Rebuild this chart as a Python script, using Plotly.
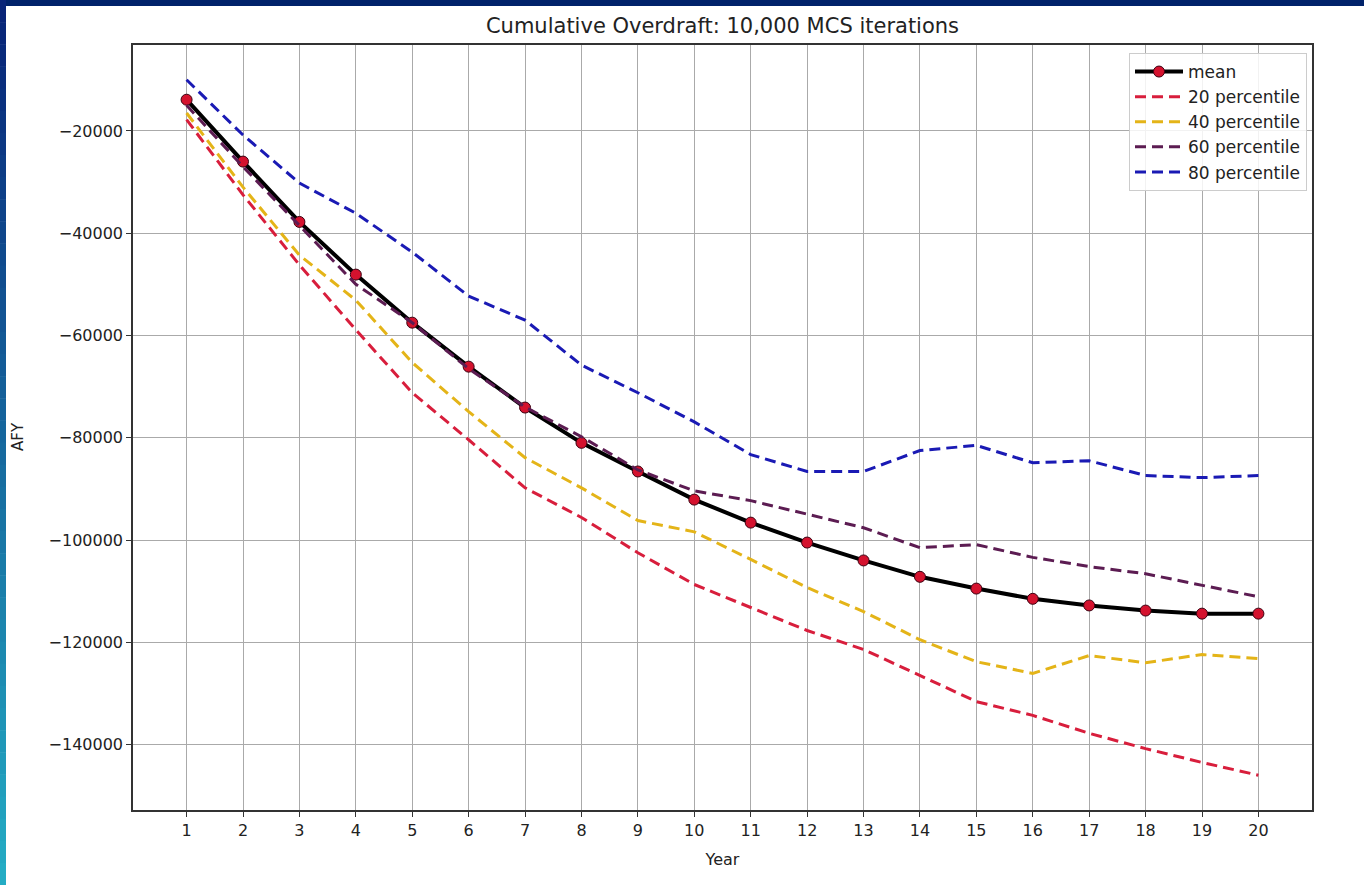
import plotly.graph_objects as go

years = list(range(1, 21))
mean_vals = [-13900, -26000, -37800, -48100, -57500, -66100, -74100, -81000, -86600, -92100,
             -96600, -100500, -104000, -107200, -109500, -111500, -112800, -113800, -114400, -114400]
p20 = [-17800, -32500, -46200, -58900, -71200, -80400, -89800, -95600, -102500, -108700,
       -113200, -117700, -121400, -126500, -131600, -134300, -137800, -140800, -143500, -146000]
p40 = [-16500, -31000, -44300, -53100, -65300, -74900, -83900, -89800, -96200, -98400,
       -103800, -109300, -114000, -119500, -123800, -126100, -122600, -124000, -122400, -123200]
p60 = [-15000, -27000, -38500, -50000, -57500, -66500, -74000, -79800, -86300, -90400,
       -92300, -94900, -97600, -101500, -100900, -103400, -105200, -106600, -108900, -111100]
p80 = [-10000, -20800, -30200, -36100, -43700, -52300, -57000, -65800, -71200, -76900,
       -83300, -86600, -86600, -82500, -81500, -84900, -84500, -87400, -87800, -87400]
y_ticks = [-20000, -40000, -60000, -80000, -100000, -120000, -140000]

W, H = 1364, 885
L, R, T, B = 133, 1312, 45, 810

DASH = "11px,6px"

fig = go.Figure()
fig.add_trace(go.Scatter(x=years, y=mean_vals, name="mean", mode="lines+markers",
                         line=dict(color="black", width=4),
                         marker=dict(color="#d4122e", size=11, line=dict(color="#3a0010", width=1))))
fig.add_trace(go.Scatter(x=years, y=p20, name="20 percentile", mode="lines",
                         line=dict(color="#d81e3c", width=3, dash=DASH)))
fig.add_trace(go.Scatter(x=years, y=p40, name="40 percentile", mode="lines",
                         line=dict(color="#e4b418", width=3, dash=DASH)))
fig.add_trace(go.Scatter(x=years, y=p60, name="60 percentile", mode="lines",
                         line=dict(color="#5c1c52", width=3, dash=DASH)))
fig.add_trace(go.Scatter(x=years, y=p80, name="80 percentile", mode="lines",
                         line=dict(color="#1a1ab4", width=3, dash=DASH)))

def px_x(p):
    return (p - L) / (R - L)

def px_y(p):
    return (B - p) / (B - T)

shapes = []
# top border
shapes.append(dict(type="rect", xref="paper", yref="paper", x0=px_x(0), x1=px_x(W), y0=px_y(6), y1=px_y(0),
                   fillcolor="#00226a", line=dict(width=0), layer="above"))
# left gradient border
n = 40
c0 = (8, 36, 120)
c1 = (36, 172, 196)
for i in range(n):
    t = i / (n - 1)
    c = tuple(int(c0[k] + (c1[k] - c0[k]) * t) for k in range(3))
    shapes.append(dict(type="rect", xref="paper", yref="paper", x0=px_x(0), x1=px_x(6),
                       y0=px_y(H * (i + 1) / n + 0.5), y1=px_y(H * i / n),
                       fillcolor="rgb(%d,%d,%d)" % c, line=dict(width=0), layer="above"))

font = "DejaVu Sans, sans-serif"
fig.update_layout(
    width=W, height=H,
    margin=dict(l=L, r=W - R, t=T, b=H - B),
    paper_bgcolor="white", plot_bgcolor="white",
    font=dict(family=font, size=15, color="#222"),
    title=dict(text="Cumulative Overdraft: 10,000 MCS iterations", x=0.5, xref="paper",
               xanchor="center", y=1 - 26 / H, yanchor="middle", font=dict(size=21, color="#222")),
    showlegend=True,
    legend=dict(x=px_x(1307), xanchor="right", y=px_y(53), yanchor="top",
                bgcolor="rgba(255,255,255,0.85)", bordercolor="#cccccc", borderwidth=1,
                font=dict(size=17, color="#222"), tracegroupgap=0, itemwidth=48),
    shapes=shapes,
    annotations=[dict(text="AFY", xref="paper", yref="paper", x=px_x(18), y=px_y(437),
                      xanchor="center", yanchor="middle", textangle=-90, showarrow=False,
                      font=dict(size=15, color="#222"))],
)
fig.update_xaxes(range=[0.05, 20.95], tickmode="array", tickvals=years, ticktext=[str(v) for v in years],
                 showgrid=True, gridcolor="#aaaaaa", gridwidth=1,
                 showline=True, linecolor="#333", linewidth=1.5, mirror=True,
                 ticks="outside", ticklen=5, tickcolor="#333", zeroline=False,
                 title=dict(text="Year", font=dict(size=16)), tickfont=dict(size=16))
fig.update_yaxes(range=[-152800, -3200], tickmode="array", tickvals=y_ticks,
                 ticktext=["\u2212%d" % abs(v) for v in y_ticks],
                 showgrid=True, gridcolor="#aaaaaa", gridwidth=1,
                 showline=True, linecolor="#333", linewidth=1.5, mirror=True,
                 ticks="outside", ticklen=5, tickcolor="#333", zeroline=False,
                 tickfont=dict(size=16))

fig.write_html("out.html", config={"displayModeBar": False},
               post_script="document.body.style.margin='0';document.body.style.overflow='hidden';")
